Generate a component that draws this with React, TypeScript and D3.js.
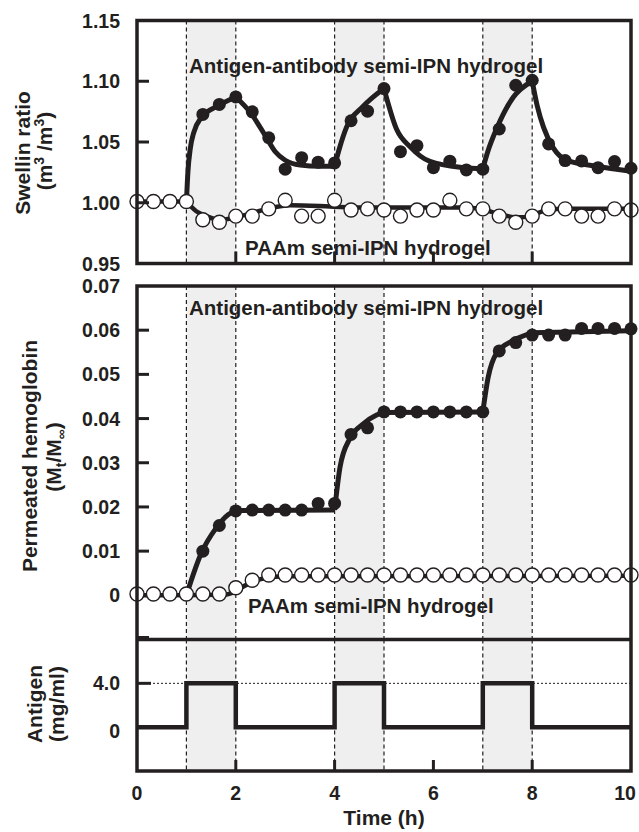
import React from 'react';
import * as d3 from 'd3';

// ---------- data ----------
const timeAll = [0, 0.333, 0.667, 1, 1.333, 1.667, 2, 2.333, 2.667, 3, 3.333, 3.667, 4, 4.333, 4.667, 5, 5.333, 5.667, 6, 6.333, 6.667, 7, 7.333, 7.667, 8, 8.333, 8.667, 9, 9.333, 9.667, 10];
const timeFilled = [1.333, 1.667, 2, 2.333, 2.667, 3, 3.333, 3.667, 4, 4.333, 4.667, 5, 5.333, 5.667, 6, 6.333, 6.667, 7, 7.333, 7.667, 8, 8.333, 8.667, 9, 9.333, 9.667, 10];

// Swelling ratio (top panel)
const swellAbPoints = [1.0727, 1.0809, 1.0871, 1.0748, 1.0535, 1.0276, 1.0371, 1.0334, 1.0328, 1.0675, 1.0754, 1.094, 1.042, 1.047, 1.0289, 1.0342, 1.027, 1.0276, 1.0607, 1.0967, 1.1008, 1.0484, 1.0347, 1.0344, 1.0289, 1.0339, 1.0284];
const swellPaamPoints = [1.001, 1.001, 1.001, 1.001, 0.986, 0.984, 0.989, 0.989, 0.995, 1.002, 0.989, 0.989, 1.002, 0.994, 0.995, 0.994, 0.989, 0.994, 0.994, 1.002, 0.995, 0.995, 0.989, 0.984, 0.989, 0.995, 0.995, 0.989, 0.989, 0.995, 0.994];
const swellAbCurve: [number, number][] = [[1.0, 1.0], [1.03, 1.025], [1.08, 1.045], [1.15, 1.058], [1.3, 1.07], [1.65, 1.08], [2.0, 1.087], [2.3, 1.074], [2.6, 1.055], [2.8, 1.042], [3.0, 1.035], [3.3, 1.031], [3.7, 1.030], [4.0, 1.030], [4.1, 1.045], [4.24, 1.062], [4.57, 1.079], [5.0, 1.094], [5.26, 1.06], [5.53, 1.046], [5.93, 1.034], [6.6, 1.029], [7.0, 1.028], [7.1, 1.042], [7.28, 1.061], [7.62, 1.087], [8.0, 1.1], [8.1, 1.08], [8.23, 1.062], [8.43, 1.045], [8.7, 1.035], [9.3, 1.03], [10, 1.026]];
const swellPaamCurve: [number, number][] = [[0, 1.001], [1.0, 1.001], [1.2, 0.993], [1.41, 0.989], [1.65, 0.986], [1.9, 0.987], [2.0, 0.988], [2.3, 0.991], [2.63, 0.995], [3.1, 0.998], [3.9, 0.997], [4.5, 0.996], [5.5, 0.996], [6.5, 0.996], [7.0, 0.995], [7.3, 0.991], [7.7, 0.988], [8.0, 0.989], [8.3, 0.994], [8.7, 0.995], [10, 0.995]];

// Permeated hemoglobin (middle panel)
const hbAbPoints = [0.01, 0.0158, 0.0191, 0.0193, 0.0193, 0.0193, 0.0193, 0.0208, 0.0208, 0.0364, 0.0379, 0.0415, 0.0415, 0.0415, 0.0415, 0.0415, 0.0415, 0.0415, 0.0553, 0.0572, 0.0589, 0.0589, 0.0589, 0.0604, 0.0604, 0.0604, 0.0603];
const hbPaamPoints = [0.0003, 0.0003, 0.0003, 0.0003, 0.0003, 0.0003, 0.0017, 0.0034, 0.0046, 0.0046, 0.0046, 0.0046, 0.0046, 0.0046, 0.0046, 0.0046, 0.0046, 0.0046, 0.0046, 0.0046, 0.0046, 0.0046, 0.0046, 0.0046, 0.0046, 0.0046, 0.0046, 0.0046, 0.0046, 0.0046, 0.0046];
const hbAbCurve: [number, number][] = [[1.0, 0.0], [1.3, 0.0095], [1.6, 0.0152], [1.85, 0.0183], [2.0, 0.0192], [4.0, 0.0193], [4.11, 0.029], [4.31, 0.0355], [4.58, 0.0388], [4.85, 0.0408], [5.0, 0.0414], [7.0, 0.0415], [7.11, 0.0494], [7.28, 0.0548], [7.62, 0.0577], [8.0, 0.0594], [10, 0.0599]];
const hbPaamCurve: [number, number][] = [[0, 0.0], [1.8, 0.0002], [2.0, 0.001], [2.3, 0.0028], [2.6, 0.0039], [3.0, 0.0043], [10, 0.0044]];

// Antigen concentration (bottom panel)
const antigenSteps: [number, number][] = [[0, 0], [1, 4], [2, 0], [4, 4], [5, 0], [7, 4], [8, 0], [10, 0]];
const antigenBands: [number, number][] = [[1, 2], [4, 5], [7, 8]];
const switchTimes = [1, 2, 4, 5, 7, 8];

// ticks
const xTicks = [0, 2, 4, 6, 8, 10];
const xInnerTicks = [2, 4, 6, 8];
const swellTicks = [0.95, 1.0, 1.05, 1.1, 1.15];
const swellTickLabels = ['0.95', '1.00', '1.05', '1.10', '1.15'];
const hbTicks = [0, 0.01, 0.02, 0.03, 0.04, 0.05, 0.06, 0.07];
const hbTickLabels = ['0', '0.01', '0.02', '0.03', '0.04', '0.05', '0.06', '0.07'];
const antigenTicks = [0, 4];
const antigenTickLabels = ['0', '4.0'];

// ---------- layout ----------
const W = 639, H = 832;
const L = 137, R = 631;
const topY0 = 20.5, topY1 = 263.5;
const midY0 = 286, midY1 = 639.5;
const botY0 = 639.5, botY1 = 771;
const INK = '#231f20';
const FONT = "'Liberation Sans', Arial, Helvetica, sans-serif";

const x = d3.scaleLinear().domain([0, 10]).range([L, R]);
const yTop = d3.scaleLinear().domain([0.95, 1.15]).range([topY1, topY0]);
const yMid = d3.scaleLinear().domain([-0.01, 0.07]).range([midY1, midY0]);
const yBot = d3.scaleLinear().domain([-4, 8]).range([botY1, botY0]);

function splitAtKnots(pts: [number, number][]): [number, number][][] {
  const segs: [number, number][][] = [];
  let cur: [number, number][] = [];
  pts.forEach((p, i) => {
    cur.push(p);
    if (i > 0 && i < pts.length - 1 && switchTimes.includes(p[0])) {
      segs.push(cur);
      cur = [p];
    }
  });
  if (cur.length > 1) segs.push(cur);
  return segs;
}

function curvePaths(pts: [number, number][], y: d3.ScaleLinear<number, number>) {
  const gen = d3.line<[number, number]>().x(d => x(d[0])).y(d => y(d[1])).curve(d3.curveMonotoneX);
  return splitAtKnots(pts).map(s => gen(s) as string);
}

function Panel({ y0, y1 }: { y0: number; y1: number }) {
  return (
    <g>
      {antigenBands.map(([a, b], i) => (
        <rect key={'b' + i} x={x(a)} y={y0} width={x(b) - x(a)} height={y1 - y0} fill="#efefef" />
      ))}
      {switchTimes.map((t, i) => (
        <line key={'d' + i} x1={x(t)} x2={x(t)} y1={y0} y2={y1} stroke={INK} strokeWidth={1.2} strokeDasharray="4,3" />
      ))}
    </g>
  );
}

export default function App() {
  const stepLine = d3.line<[number, number]>().x(d => x(d[0])).y(d => yBot(d[1])).curve(d3.curveStepAfter);
  const label = { fontFamily: FONT, fontWeight: 700, fill: INK } as const;
  const tickFs = 19.5;
  const inFs = 20.5;
  const titleFs = 21;

  return (
    <svg width={W} height={H} viewBox={`0 0 ${W} ${H}`} style={{ position: 'absolute', left: 0, top: 0, background: '#fff' }}>
      <rect x={0} y={0} width={W} height={H} fill="#fff" />
      {/* backgrounds */}
      <Panel y0={topY0} y1={topY1} />
      <Panel y0={midY0} y1={midY1} />
      <Panel y0={botY0} y1={botY1} />

      {/* dotted 4.0 reference */}
      <line x1={L} x2={R} y1={yBot(4)} y2={yBot(4)} stroke={INK} strokeWidth={1} strokeDasharray="2,2" />

      {/* inner labels */}
      <text x={189} y={73} fontSize={inFs} {...label}>Antigen-antibody semi-IPN hydrogel</text>
      <text x={245} y={255} fontSize={inFs} {...label}>PAAm semi-IPN hydrogel</text>
      <text x={189} y={315} fontSize={inFs} {...label}>Antigen-antibody semi-IPN hydrogel</text>
      <text x={248} y={613} fontSize={inFs} {...label}>PAAm semi-IPN hydrogel</text>

      {/* top panel curves */}
      {curvePaths(swellPaamCurve, yTop).map((d, i) => (
        <path key={'tp' + i} d={d} fill="none" stroke={INK} strokeWidth={4.5} />
      ))}
      {curvePaths(swellAbCurve, yTop).map((d, i) => (
        <path key={'ta' + i} d={d} fill="none" stroke={INK} strokeWidth={5} />
      ))}
      {swellPaamPoints.map((v, i) => (
        <circle key={'tpo' + i} cx={x(timeAll[i])} cy={yTop(v)} r={7} fill="#fff" stroke={INK} strokeWidth={1.4} />
      ))}
      {swellAbPoints.map((v, i) => (
        <circle key={'tao' + i} cx={x(timeFilled[i])} cy={yTop(v)} r={6.5} fill={INK} />
      ))}

      {/* middle panel curves */}
      {curvePaths(hbPaamCurve, yMid).map((d, i) => (
        <path key={'mp' + i} d={d} fill="none" stroke={INK} strokeWidth={4.5} />
      ))}
      {curvePaths(hbAbCurve, yMid).map((d, i) => (
        <path key={'ma' + i} d={d} fill="none" stroke={INK} strokeWidth={5} />
      ))}
      {hbPaamPoints.map((v, i) => (
        <circle key={'mpo' + i} cx={x(timeAll[i])} cy={yMid(v)} r={7} fill="#fff" stroke={INK} strokeWidth={1.4} />
      ))}
      {hbAbPoints.map((v, i) => (
        <circle key={'mao' + i} cx={x(timeFilled[i])} cy={yMid(v)} r={6.5} fill={INK} />
      ))}

      {/* bottom step */}
      <path d={stepLine(antigenSteps) as string} fill="none" stroke={INK} strokeWidth={4.5} strokeLinejoin="miter" />

      {/* frames */}
      <rect x={L} y={topY0} width={R - L} height={topY1 - topY0} fill="none" stroke={INK} strokeWidth={3.5} />
      <rect x={L} y={midY0} width={R - L} height={botY1 - midY0} fill="none" stroke={INK} strokeWidth={3.5} />
      <line x1={L} x2={R} y1={botY0} y2={botY0} stroke={INK} strokeWidth={3.5} />

      {/* y ticks */}
      {swellTicks.map((t, i) => (
        <g key={'st' + i}>
          {t > 0.95 && t < 1.15 && <line x1={L} x2={L + 12} y1={yTop(t)} y2={yTop(t)} stroke={INK} strokeWidth={3} />}
          <text x={120} y={yTop(t)} dy="0.36em" textAnchor="end" fontSize={tickFs} {...label}>{swellTickLabels[i]}</text>
        </g>
      ))}
      {hbTicks.map((t, i) => (
        t > 0 && t < 0.07 ? <line key={'hl' + i} x1={L} x2={L + 12} y1={yMid(t)} y2={yMid(t)} stroke={INK} strokeWidth={3} /> : null
      ))}
      <line x1={L} x2={L + 12} y1={yMid(-0.01) - 2} y2={yMid(-0.01) - 2} stroke={INK} strokeWidth={3} />
      {hbTicks.map((t, i) => (
        <text key={'ht' + i} x={120} y={yMid(t)} dy="0.36em" textAnchor="end" fontSize={tickFs} {...label}>{hbTickLabels[i]}</text>
      ))}
      {antigenTicks.map((t, i) => (
        <g key={'at' + i}>
          <line x1={L} x2={L + 14} y1={yBot(t)} y2={yBot(t)} stroke={INK} strokeWidth={3} />
          <text x={120} y={yBot(t) + (t === 0 ? 4 : 0)} dy="0.36em" textAnchor="end" fontSize={tickFs} {...label}>{antigenTickLabels[i]}</text>
        </g>
      ))}

      {/* x ticks */}
      {xInnerTicks.map((t, i) => (
        <g key={'xt' + i}>
          <line x1={x(t)} x2={x(t)} y1={topY1} y2={topY1 - 12} stroke={INK} strokeWidth={3} />
          <line x1={x(t)} x2={x(t)} y1={botY1} y2={botY1 - 11} stroke={INK} strokeWidth={3} />
        </g>
      ))}
      {xTicks.map((t, i) => (
        <text key={'xl' + i} x={Math.min(x(t), W - 14)} y={800} textAnchor="middle" fontSize={tickFs} {...label}>{t}</text>
      ))}
      <text x={(L + R) / 2} y={825} textAnchor="middle" fontSize={titleFs} {...label}>Time (h)</text>

      {/* y titles */}
      <text transform="translate(30,153) rotate(-90)" textAnchor="middle" fontSize={titleFs} {...label}>Swellin ratio</text>
      <text transform="translate(52,151) rotate(-90)" textAnchor="middle" fontSize={titleFs} {...label}>
        (m<tspan dy={-8} fontSize={14}>3</tspan><tspan dy={8}> /m</tspan><tspan dy={-8} fontSize={14}>3</tspan><tspan dy={8}>)</tspan>
      </text>
      <text transform="translate(37,456) rotate(-90)" textAnchor="middle" fontSize={titleFs} {...label}>Permeated hemoglobin</text>
      <text transform="translate(61,457) rotate(-90)" textAnchor="middle" fontSize={titleFs} {...label}>
        (M<tspan dy={5} fontSize={14}>t</tspan><tspan dy={-5}>/M</tspan><tspan dy={5} fontSize={14}>∞</tspan><tspan dy={-5}>)</tspan>
      </text>
      <text transform="translate(42,704) rotate(-90)" textAnchor="middle" fontSize={titleFs} {...label}>Antigen</text>
      <text transform="translate(64,704) rotate(-90)" textAnchor="middle" fontSize={titleFs} {...label}>(mg/ml)</text>
    </svg>
  );
}
